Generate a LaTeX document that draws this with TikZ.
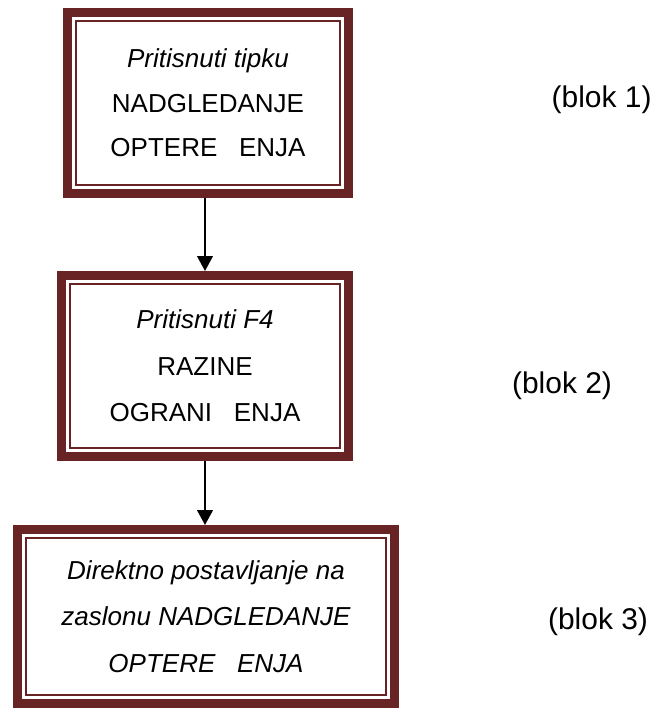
\documentclass[tikz,border=0pt]{standalone}
\usepackage{fontspec}
\setmainfont{Liberation Sans}
\usetikzlibrary{arrows.meta}
\definecolor{okvir}{RGB}{104,35,36}

\begin{document}
\begin{tikzpicture}[
        blok/.style={rectangle, draw=okvir, line width=6.4pt, align=center, inner sep=0pt, font=\fontsize{18.5}{33}\selectfont},
        oznaka/.style={font=\fontsize{21.3}{24}\selectfont},
        unutra/.style={draw=okvir, line width=1.8pt},
        strelica/.style={-{Triangle[width=11pt,length=10.5pt]}, line width=1.4pt}
        ]
        \useasboundingbox (0,0) rectangle (16.4,-17.725);

        % Blokovi
        \node[blok, font=\fontsize{18.5}{31.7}\selectfont, minimum width=7.025cm, minimum height=4.525cm] (blok1) at (5.2,-2.575) {\textit{Pritisnuti tipku}\\NADGLEDANJE\\OPTERE~~~ENJA};
        \node[blok, minimum width=7.175cm, minimum height=4.525cm] (blok2) at (5.125,-9.15) {\textit{Pritisnuti F4}\\RAZINE\\OGRANI~~~ENJA};
        \node[blok, minimum width=9.425cm, minimum height=4.35cm] (blok3) at (5.15,-15.4125) {\itshape Direktno postavljanje na\\\itshape zaslonu NADGLEDANJE\\\itshape OPTERE~~~ENJA};

        % Unutarnji okviri
        \foreach \b in {blok1,blok2,blok3}
            \draw[unutra] ([xshift=9.4pt,yshift=-9.4pt]\b.north west) rectangle ([xshift=-9.4pt,yshift=9.4pt]\b.south east);

        % Oznake
        \node[oznaka] (oz1) at (15.04,-2.5) {(blok 1)};
        \node[oznaka] (oz2) at (14.05,-9.65) {(blok 2)};
        \node[oznaka] (oz3) at (14.95,-15.55) {(blok 3)};

        % Strelice
        \draw[strelica] (blok2.north |- blok1.south) -- (blok2.north);
        \draw[strelica] (blok2.south) -- (blok2.south |- blok3.north);
\end{tikzpicture}
\end{document}
